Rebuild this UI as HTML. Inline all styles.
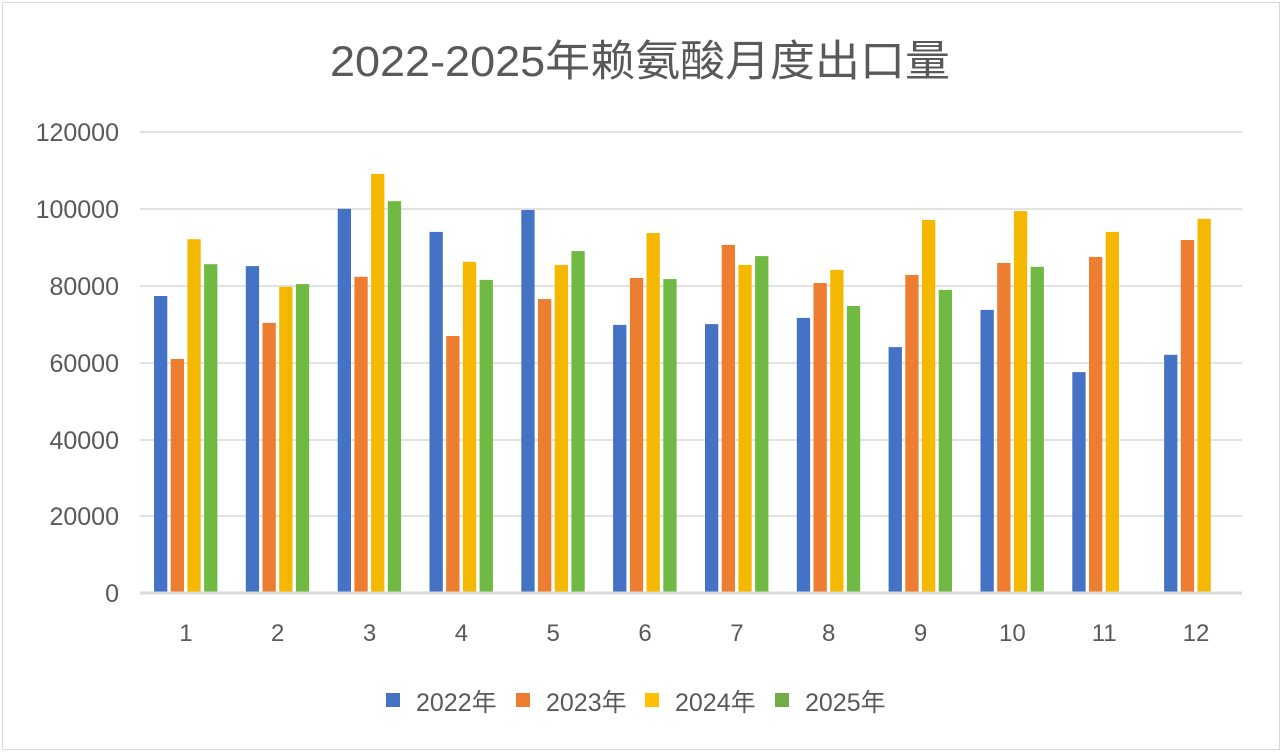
<!DOCTYPE html>
<html><head><meta charset="utf-8"><style>
body{margin:0;background:#fff}
svg{display:block}
text{font-family:"Liberation Sans","Noto Sans CJK SC",sans-serif;fill:#595959}
</style></head><body>
<svg width="1283" height="755" xmlns="http://www.w3.org/2000/svg">
<rect x="0" y="0" width="1283" height="755" fill="#fff"/>
<rect x="2.5" y="2.5" width="1277" height="747" fill="#fff" stroke="#d9d9d9"/>
<text x="640" y="76" font-size="43" text-anchor="middle" textLength="620" lengthAdjust="spacingAndGlyphs">2022-2025年赖氨酸月度出口量</text>
<g stroke="#d9d9d9" stroke-width="1.5">
<line x1="140" x2="1242" y1="132" y2="132"/>
<line x1="140" x2="1242" y1="209" y2="209"/>
<line x1="140" x2="1242" y1="286" y2="286"/>
<line x1="140" x2="1242" y1="363" y2="363"/>
<line x1="140" x2="1242" y1="440" y2="440"/>
<line x1="140" x2="1242" y1="516" y2="516"/>
</g>
<g font-size="25" text-anchor="end">
<text x="119" y="141">120000</text>
<text x="119" y="218">100000</text>
<text x="119" y="295">80000</text>
<text x="119" y="372">60000</text>
<text x="119" y="449">40000</text>
<text x="119" y="525">20000</text>
<text x="119" y="602">0</text>
</g>
<g id="bars"></g>
<line x1="140" x2="1242" y1="593" y2="593" stroke="#d9d9d9" stroke-width="3"/>
<g id="xl" font-size="24" text-anchor="middle"></g>
<g font-size="25">
<rect x="386" y="693" width="14" height="14" fill="#4472c4"/><text x="416" y="711">2022年</text>
<rect x="516" y="693" width="14" height="14" fill="#ed7d31"/><text x="546" y="711">2023年</text>
<rect x="645" y="693" width="14" height="14" fill="#ffc000"/><text x="675" y="711">2024年</text>
<rect x="775" y="693" width="14" height="14" fill="#70ad47"/><text x="805" y="711">2025年</text>
</g>
</svg>
<script>
var d=[[77300,60900,92100,85600],[85100,70300,79700,80400],[100000,82300,109100,102000],[94000,66900,86200,81500],[99700,76500,85400,89000],[69800,82000,93700,81700],[70000,90600,85400,87700],[71600,80700,84100,74700],[64000,82800,97100,78900],[73700,85900,99400,84900],[57500,87500,94000,null],[62000,91900,97400,null]];
var c=["#4472c4","#ed7d31","#f5b800","#70b943"];
var s="",t="";
for(var i=0;i<12;i++){var x0=140+i*91.83;
for(var j=0;j<4;j++){var v=d[i][j];if(v==null)continue;var h=v/120000*461;
s+='<rect x="'+(x0+14+j*16.7).toFixed(1)+'" y="'+(593-h).toFixed(1)+'" width="13.3" height="'+h.toFixed(1)+'" fill="'+c[j]+'"/>';}
t+='<text x="'+(x0+45.9).toFixed(1)+'" y="641">'+(i+1)+'</text>';}
document.getElementById("bars").innerHTML=s;document.getElementById("xl").innerHTML=t;
</script>
</body></html>
